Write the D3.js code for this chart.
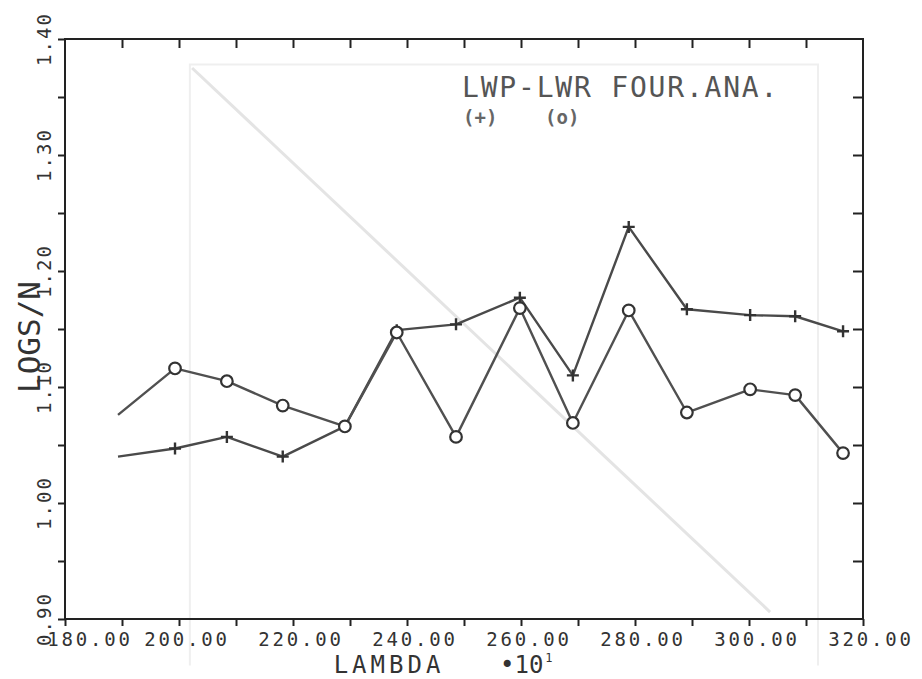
<!DOCTYPE html>
<html>
<head>
<meta charset="utf-8">
<script src="https://cdn.jsdelivr.net/npm/d3@7"></script>
<style>
  body { margin: 0; background: #fff; }
  text { font-family: "DejaVu Sans Mono", monospace; }
</style>
</head>
<body>
<svg id="chart" width="922" height="679"></svg>
<script>
// lambda (x10) positions shared by both curves
const lambda = [189.3, 199.3, 208.4, 218.2, 229.1, 238.2, 248.6, 259.8, 269.1, 278.9, 289.1, 300.2, 308.1, 316.5];
// LWP curve (+)
const lwp = [1.040, 1.047, 1.057, 1.040, 1.066, 1.149, 1.154, 1.177, 1.110, 1.238, 1.167, 1.162, 1.161, 1.148];
// LWR curve (o)
const lwr = [1.076, 1.116, 1.105, 1.084, 1.066, 1.147, 1.057, 1.168, 1.069, 1.166, 1.078, 1.098, 1.093, 1.043];

const xTicks = [180, 200, 220, 240, 260, 280, 300, 320];
const yTicks = [0.90, 1.00, 1.10, 1.20, 1.30, 1.40];

// faint show-through from the back of the sheet (data units)
const ghostFrame = [[201.9, 0.86], [201.9, 1.378], [312.1, 1.378], [312.1, 0.86]];
const ghostDiag = [[202.3, 1.375], [303.7, 0.906]];

const svg = d3.select('#chart');
const x = d3.scaleLinear().domain([180, 320]).range([65, 863]);
const y = d3.scaleLinear().domain([0.90, 1.40]).range([619, 39]);

// ghost lines
const gline = d3.line().x(d => x(d[0])).y(d => y(d[1]));
svg.append('path').attr('d', gline(ghostFrame))
  .attr('fill', 'none').attr('stroke', '#efefef').attr('stroke-width', 2);
svg.append('path').attr('d', gline(ghostDiag))
  .attr('fill', 'none').attr('stroke', '#e4e4e4').attr('stroke-width', 3);

// frame
svg.append('rect')
  .attr('x', x(180)).attr('y', y(1.40))
  .attr('width', x(320) - x(180)).attr('height', y(0.90) - y(1.40))
  .attr('fill', 'none').attr('stroke', '#222').attr('stroke-width', 2);

const minorX = d3.range(180, 321, 10);
const minorY = d3.range(0, 11).map(i => 0.90 + i * 0.05);

// bottom axis: outward ticks
const axB = svg.append('g').attr('transform', `translate(0,${y(0.90)})`)
  .call(d3.axisBottom(x).tickValues(minorX).tickSize(7).tickFormat(''));
// top axis: inward ticks
const axT = svg.append('g').attr('transform', `translate(0,${y(1.40)})`)
  .call(d3.axisBottom(x).tickValues(minorX.slice(1, -1)).tickSize(9).tickFormat(''));
// left axis: outward ticks
const axL = svg.append('g').attr('transform', `translate(${x(180)},0)`)
  .call(d3.axisLeft(y).tickValues(minorY).tickSize(7).tickFormat(''));
// right axis: inward ticks
const axR = svg.append('g').attr('transform', `translate(${x(320)},0)`)
  .call(d3.axisLeft(y).tickValues(minorY.slice(1, -1)).tickSize(10).tickFormat(''));

[axB, axT, axL, axR].forEach(g => {
  g.select('.domain').remove();
  g.selectAll('line').attr('stroke', '#222').attr('stroke-width', 2);
});

// x tick labels (first one pushed right of the corner, as plotted)
svg.append('g').selectAll('text').data(xTicks).join('text')
  .attr('x', (d, i) => i === 0 ? x(d) + 25 : x(d) + 8)
  .attr('y', 646)
  .attr('text-anchor', 'middle')
  .attr('font-size', 19).attr('letter-spacing', 2.8)
  .attr('fill', '#333')
  .text(d3.format('.2f'));

// y tick labels, rotated
svg.append('g').selectAll('text').data(yTicks).join('text')
  .attr('transform', d => `translate(51,${y(d)}) rotate(-90)`)
  .attr('text-anchor', 'middle')
  .attr('font-size', 19).attr('letter-spacing', 2)
  .attr('fill', '#333')
  .text(d3.format('.2f'));

// axis titles
svg.append('text')
  .attr('transform', 'translate(40,337) rotate(-90)')
  .attr('text-anchor', 'middle')
  .attr('font-size', 31).attr('fill', '#333')
  .text('LOGS/N');

svg.append('text')
  .attr('x', 389).attr('y', 673)
  .attr('text-anchor', 'middle')
  .attr('font-size', 24).attr('letter-spacing', 4)
  .attr('fill', '#333')
  .text('LAMBDA');

const pow = svg.append('text')
  .attr('x', 500).attr('y', 673)
  .attr('font-size', 24).attr('fill', '#333');
pow.append('tspan').text('•10');
pow.append('tspan').attr('font-size', 12).attr('dy', -11).attr('dx', 2).text('1');

// legend
svg.append('text')
  .attr('x', 462).attr('y', 97)
  .attr('font-size', 28).attr('letter-spacing', 1.8)
  .attr('fill', '#555')
  .text('LWP-LWR FOUR.ANA.');
svg.append('text').attr('x', 463).attr('y', 124)
  .attr('font-size', 19).attr('font-weight', 'bold').attr('fill', '#666').text('(+)');
svg.append('text').attr('x', 545).attr('y', 124)
  .attr('font-size', 19).attr('font-weight', 'bold').attr('fill', '#666').text('(o)');

// curves
const line = d3.line().x(d => x(d[0])).y(d => y(d[1]));
const series = [
  { name: 'LWP', vals: lwp, color: '#4a4a4a' },
  { name: 'LWR', vals: lwr, color: '#505050' }
];
series.forEach(s => {
  const pts = lambda.map((l, i) => [l, s.vals[i]]);
  svg.append('path').attr('d', line(pts))
    .attr('fill', 'none').attr('stroke', s.color).attr('stroke-width', 2.4)
    .attr('stroke-linejoin', 'round');
  s.pts = pts;
});

// markers (first point of each curve is drawn without symbol)
svg.append('g').selectAll('path').data(series[0].pts.slice(1)).join('path')
  .attr('d', d => { const cx = x(d[0]), cy = y(d[1]); return `M${cx - 6},${cy}H${cx + 6}M${cx},${cy - 6}V${cy + 6}`; })
  .attr('stroke', '#333').attr('stroke-width', 2.4);

svg.append('g').selectAll('circle').data(series[1].pts.slice(1)).join('circle')
  .attr('cx', d => x(d[0])).attr('cy', d => y(d[1])).attr('r', 5.8)
  .attr('fill', '#fff').attr('stroke', '#333').attr('stroke-width', 2.2);
</script>
</body>
</html>
